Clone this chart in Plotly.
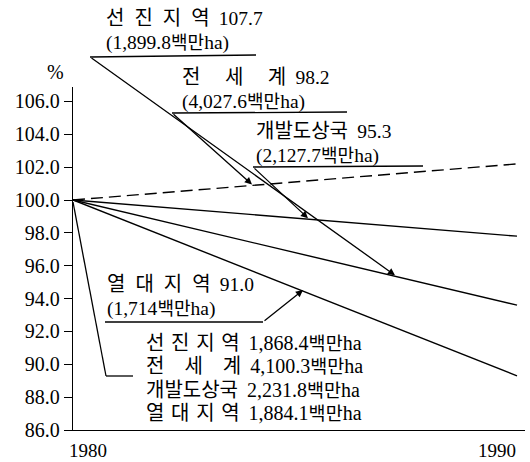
import plotly.graph_objects as go

# ---------------- data ----------------
YEARS = [1980, 1990]
DEVELOPED = [100.0, 102.2]    # dashed line
WORLD = [100.0, 97.8]
DEVELOPING = [100.0, 93.6]
TROPICAL = [100.0, 89.3]

Y_TICKS = [86.0, 88.0, 90.0, 92.0, 94.0, 96.0, 98.0, 100.0, 102.0, 104.0, 106.0]
X_TICK_TEXT = ["1980", "1990"]
X_TICK_POS = [1980.34, 1989.55]

NAMES = ["선진지역", "전세계", "개발도상국", "열대지역"]
PCT_LABELS = ["107.7", "98.2", "95.3", "91.0"]
AREA_LABELS = ["1,899.8", "4,027.6", "2,127.7", "1,714"]
BASE_AREAS = ["1,868.4", "4,100.3", "2,231.8", "1,884.1"]
UNIT_K = "백만"
UNIT_L = "ha"

# ---------------- geometry ----------------
W, H = 530, 462
ML, MR, MT, MB = 73, 5, 87, 32
X0, X1 = 1980, 1990.18
Y0, Y1 = 86, 106.88
PW = W - ML - MR
PH = H - MT - MB

SERIF = "Liberation Serif"
KFONT = "Noto Sans CJK KR"


def pp(px, py):
    return (px - ML) / PW, (H - MB - py) / PH


def data_to_px(x, y):
    return ML + (x - X0) / (X1 - X0) * PW, H - MB - (y - Y0) / (Y1 - Y0) * PH


def y_on_line(series, px):
    x = X0 + (px - ML) / PW * (X1 - X0)
    frac = (x - YEARS[0]) / (YEARS[1] - YEARS[0])
    v = series[0] + (series[1] - series[0]) * frac
    return data_to_px(x, v)[1]


def K(s, size=20):
    return f'<span style="font-family:{KFONT};font-size:{size}px">{s}</span>'


def N(s, size=19.5):
    return f'<span style="font-family:{SERIF};font-size:{size}px">{s}</span>'


def spaced_top(name):
    if len(name) == 3:
        return "\u3000 ".join(name)
    if len(name) == 4:
        return "\u2002".join(name)
    return name


def spaced_bottom(name):
    if len(name) == 3:
        return "\u3000".join(name)
    if len(name) == 4:
        return "\u2004".join(name)
    return name


fig = go.Figure()

series = [DEVELOPED, WORLD, DEVELOPING, TROPICAL]
dashes = ["12px,6px", "solid", "solid", "solid"]
for s, d, n in zip(series, dashes, NAMES):
    fig.add_trace(go.Scatter(x=YEARS, y=s, mode="lines", name=n,
                             line=dict(color="black", width=1.4, dash=d),
                             showlegend=False, hoverinfo="skip"))

annotations = []
shapes = []


def text(px, py, s, size=19, anchor="left"):
    x, y = pp(px, py)
    annotations.append(dict(x=x, y=y, xref="paper", yref="paper", text=s,
                            showarrow=False, xanchor=anchor, yanchor="middle",
                            align="left", borderpad=0,
                            font=dict(family=SERIF, size=size, color="black")))


def seg(p1, p2):
    a = pp(*p1)
    b = pp(*p2)
    shapes.append(dict(type="line", xref="paper", yref="paper",
                       x0=a[0], y0=a[1], x1=b[0], y1=b[1],
                       line=dict(color="black", width=1.3)))


def arrow(tail, tip):
    x, y = pp(*tip)
    annotations.append(dict(x=x, y=y, xref="paper", yref="paper", text="",
                            showarrow=True, arrowhead=2, arrowsize=1.1,
                            arrowwidth=1.3, arrowcolor="black",
                            ax=tail[0] - tip[0], ay=tail[1] - tip[1],
                            standoff=0, startstandoff=0))


# label layout (pixels): text left/centre-y, underline start/end, arrow tail, arrow tip x, target series
label_layout = [
    ((105, 28), (90, 57), (256, 55), (90, 57), 395, DEVELOPING),
    ((181, 87), (172, 113), (347, 112), (172, 113), 252, DEVELOPED),
    ((255, 141), (253, 167), (423, 166), (253, 167), 308, WORLD),
    ((106, 294), (105, 322), (263, 322), (263, 322), 303, TROPICAL),
]

for i, (tl, u0, u1, tail, tipx, tgt) in enumerate(label_layout):
    s = (K(spaced_top(NAMES[i])) + "\u2002" + N(PCT_LABELS[i]) + "<br>"
         + N("(" + AREA_LABELS[i]) + K(UNIT_K, 18) + N(UNIT_L + ")"))
    text(tl[0], tl[1], s, size=18.5)
    seg(u0, u1)
    arrow(tail, (tipx, y_on_line(tgt, tipx) - 1))

# base-year bracket leader
seg((73, 202), (106, 376))
seg((106, 376), (133, 376))

# base-year block (single text block, justified names)
rows = [K(spaced_bottom(NAMES[i])) + "\u2002" + N(BASE_AREAS[i], 20)
        + K(UNIT_K, 18.5) + N(UNIT_L, 20)
        for i in range(len(NAMES))]
text(145, 376.5, "<br>".join(rows), size=18)

# percent sign
text(55, 72, "%", size=20, anchor="center")

fig.update_layout(
    width=W, height=H,
    margin=dict(l=ML, r=MR, t=MT, b=MB, pad=0, autoexpand=False),
    paper_bgcolor="white", plot_bgcolor="white",
    showlegend=False,
    font=dict(family=SERIF, color="black"),
    annotations=annotations,
    shapes=shapes,
    xaxis=dict(range=[X0, X1], showline=True, linecolor="black", linewidth=1.4,
               showgrid=False, zeroline=False, ticks="", automargin=False,
               tickvals=X_TICK_POS, ticktext=X_TICK_TEXT,
               ticklabelstandoff=3,
               tickfont=dict(family=SERIF, size=19, color="black")),
    yaxis=dict(range=[Y0, Y1], showline=True, linecolor="black", linewidth=1.4,
               showgrid=False, zeroline=False, ticks="outside", ticklen=8,
               tickwidth=1.3, tickcolor="black", automargin=False,
               tickvals=Y_TICKS, ticktext=[f"{v:.1f}" for v in Y_TICKS],
               tickfont=dict(family=SERIF, size=20, color="black")),
)

fig.write_html("out.html",
               config={"displayModeBar": False, "responsive": False},
               post_script="document.body.style.margin='0';document.body.style.overflow='hidden';")
